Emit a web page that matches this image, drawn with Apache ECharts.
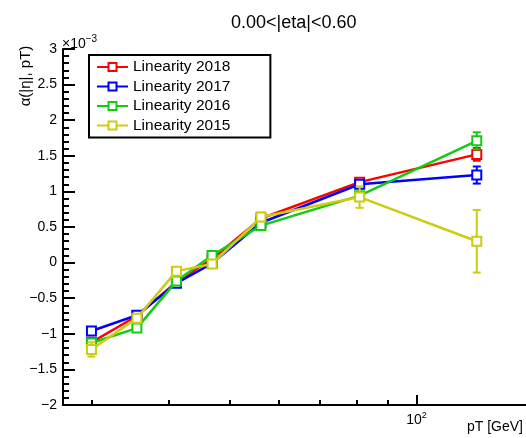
<!DOCTYPE html>
<html>
<head>
<meta charset="utf-8">
<script src="https://cdn.jsdelivr.net/npm/echarts@6/dist/echarts.min.js"></script>
<style>
  html, body { margin: 0; padding: 0; background: #fff; }
  #main { width: 526px; height: 438px; }
</style>
</head>
<body>
<div id="main"></div>
<script>
// bin centres in pT [GeV]
var pT = [30, 35.5, 41.1, 46.9, 56.2, 81, 125];
// linearity values (x 10^-3) and their errors
var lin2018 = [-1.12, -0.75, -0.27, 0.05, 0.62, 1.13, 1.52];
var err2018 = [0.03, 0.03, 0.03, 0.03, 0.04, 0.04, 0.09];
var lin2017 = [-0.96, -0.74, -0.29, -0.01, 0.56, 1.10, 1.23];
var err2017 = [0.03, 0.03, 0.03, 0.03, 0.03, 0.04, 0.12];
var lin2016 = [-1.13, -0.92, -0.26, 0.10, 0.52, 0.94, 1.71];
var err2016 = [0.03, 0.03, 0.03, 0.03, 0.03, 0.04, 0.12];
var lin2015 = [-1.22, -0.78, -0.12, -0.02, 0.64, 0.92, 0.30];
var err2015 = [0.10, 0.06, 0.05, 0.05, 0.06, 0.15, 0.44];
var xMinorTicks = [30, 40, 50, 60, 70, 80, 90];
var xMajorTicks = [100];

var years = [
  { name: 'Linearity 2018', vals: lin2018, errs: err2018, color: '#ff0000' },
  { name: 'Linearity 2017', vals: lin2017, errs: err2017, color: '#0000ff' },
  { name: 'Linearity 2016', vals: lin2016, errs: err2016, color: '#11cc11' },
  { name: 'Linearity 2015', vals: lin2015, errs: err2015, color: '#cccc11' }
];

var chart = echarts.init(document.getElementById('main'));
var font = 'Liberation Sans, Arial, sans-serif';

var series = [];
years.forEach(function (y, k) {
  // error bars
  series.push({
    type: 'custom',
    name: y.name + ' err',
    z: 2 + k * 3,
    silent: true,
    data: pT.map(function (x, i) { return [x, y.vals[i] - y.errs[i], y.vals[i] + y.errs[i]]; }),
    renderItem: function (params, api) {
      var lo = api.coord([api.value(0), api.value(1)]);
      var hi = api.coord([api.value(0), api.value(2)]);
      var c = 4;
      var st = { stroke: y.color, lineWidth: 2 };
      return {
        type: 'group',
        children: [
          { type: 'line', shape: { x1: lo[0], y1: lo[1], x2: hi[0], y2: hi[1] }, style: st },
          { type: 'line', shape: { x1: lo[0] - c, y1: lo[1], x2: lo[0] + c, y2: lo[1] }, style: st },
          { type: 'line', shape: { x1: hi[0] - c, y1: hi[1], x2: hi[0] + c, y2: hi[1] }, style: st }
        ]
      };
    }
  });
  series.push({
    type: 'line',
    name: y.name,
    z: 3 + k * 3,
    data: pT.map(function (x, i) { return [x, y.vals[i]]; }),
    symbol: 'emptyRect',
    symbolSize: 9,
    color: y.color,
    lineStyle: { width: 2.5, color: y.color },
    itemStyle: { color: y.color, borderWidth: 2 }
  });
});

chart.setOption({
  animation: false,
  backgroundColor: '#fff',
  textStyle: { fontFamily: font },
  title: {
    text: '0.00<|eta|<0.60',
    left: 226,
    top: 9,
    textStyle: { fontSize: 18, fontWeight: 'normal', color: '#000', fontFamily: font }
  },
  legend: {
    data: years.map(function (y) { return y.name; }),
    orient: 'vertical',
    left: 89,
    top: 55,
    padding: [4, 40, 4, 7],
    itemWidth: 31,
    itemHeight: 10,
    itemGap: 3.5,
    borderColor: '#000',
    borderWidth: 2,
    textStyle: { fontSize: 15.5, color: '#000', fontFamily: font }
  },
  grid: { left: 63, right: 0, top: 49, bottom: 33 },
  xAxis: [{
    type: 'log',
    min: 27,
    max: 150,
    axisLine: { onZero: false, lineStyle: { color: '#000', width: 2 } },
    axisTick: { inside: true, length: 5, customValues: xMinorTicks, lineStyle: { color: '#000', width: 2 } },
    axisLabel: {
      customValues: xMajorTicks,
      margin: 6,
      formatter: function () { return '{b|10}{s|2}'; },
      rich: {
        b: { fontSize: 14, color: '#000', fontFamily: font },
        s: { fontSize: 9, color: '#000', fontFamily: font, verticalAlign: 'top', padding: [0, 0, 10, 0] }
      }
    },
    splitLine: { show: false }
  }, {
    type: 'log',
    min: 27,
    max: 150,
    position: 'bottom',
    offset: 0,
    axisLine: { show: false, onZero: false },
    axisTick: { inside: true, length: 10, customValues: xMajorTicks, lineStyle: { color: '#000', width: 2 } },
    axisLabel: { show: false },
    splitLine: { show: false }
  }],
  yAxis: {
    type: 'value',
    min: -2,
    max: 3,
    interval: 0.5,
    axisLine: { show: true, lineStyle: { color: '#000', width: 2 } },
    axisTick: { inside: true, length: 12, lineStyle: { color: '#000', width: 2 } },
    minorTick: { show: true, splitNumber: 5, length: 6, lineStyle: { color: '#000', width: 2 } },
    axisLabel: {
      margin: 6,
      fontSize: 14,
      color: '#000',
      fontFamily: font,
      formatter: function (v) { return String(v).replace('-', '\u2212'); }
    },
    splitLine: { show: false }
  },
  graphic: [
    {
      type: 'text',
      left: 62,
      top: 34,
      style: {
        text: '{a|\u00d710}{b|\u22123}',
        rich: {
          a: { fontSize: 14, fill: '#000', fontFamily: font },
          b: { fontSize: 10, fill: '#000', fontFamily: font, verticalAlign: 'top', padding: [0, 0, 10, 0] }
        }
      }
    },
    {
      type: 'text',
      x: 26,
      y: 76,
      rotation: Math.PI / 2,
      style: {
        text: '\u03b1(|\u03b7|, pT)',
        fontSize: 15,
        fill: '#000',
        fontFamily: font,
        align: 'center',
        verticalAlign: 'middle'
      }
    },
    {
      type: 'text',
      right: 3,
      top: 420,
      style: { text: 'pT [GeV]', fontSize: 14, fill: '#000', fontFamily: font }
    }
  ],
  series: series
});
</script>
</body>
</html>
